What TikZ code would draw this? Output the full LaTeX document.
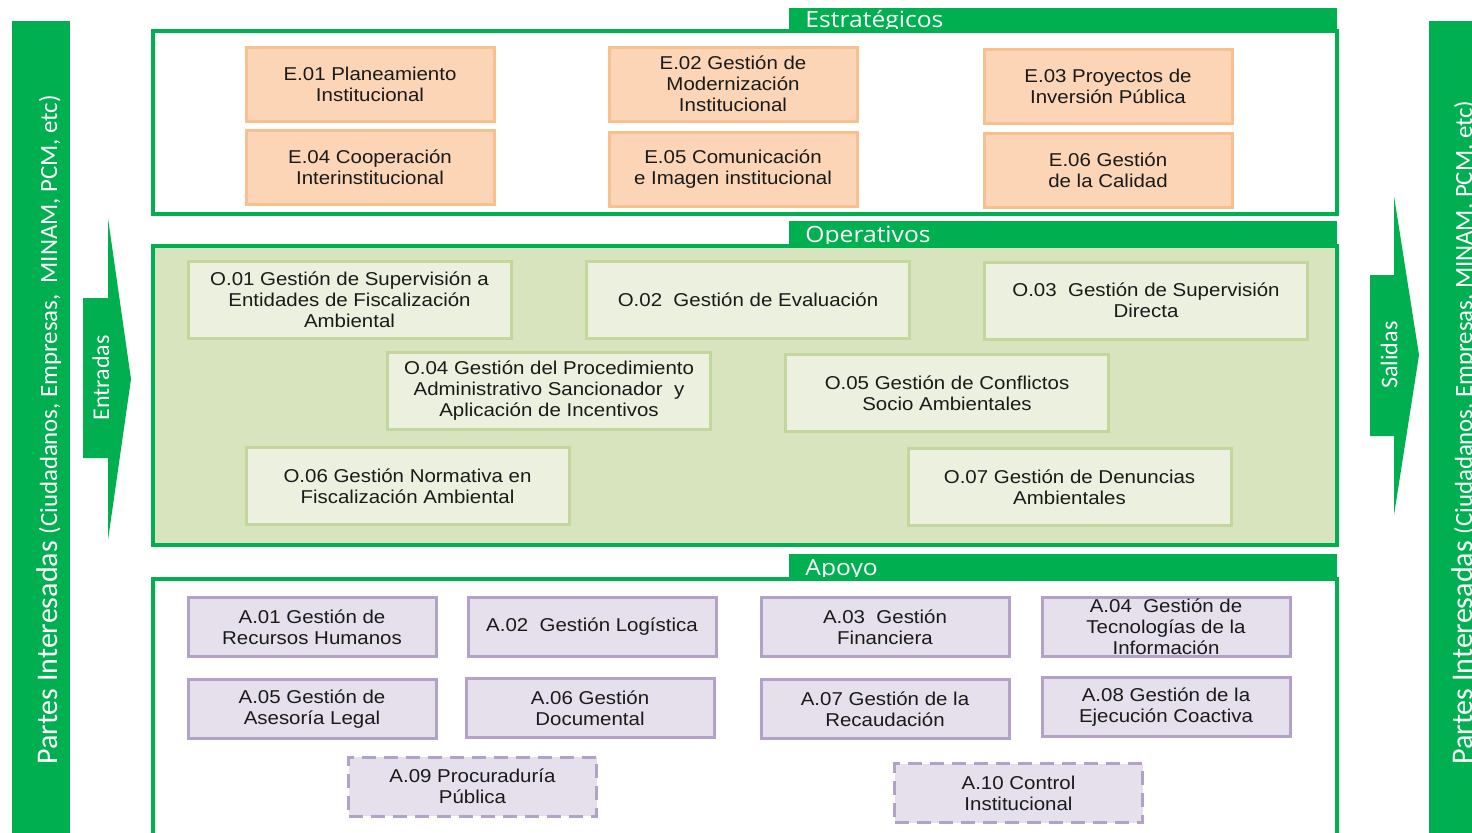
\documentclass[tikz,border=0pt]{standalone}
\usepackage{fontspec}
\setmainfont{Liberation Sans}
\newfontfamily\boxfont{Liberation Sans}[FakeStretch=1.1]
\newfontfamily\hdrfont{Open Sans}[FakeStretch=1.1]
\newfontfamily\sidefont{Carlito}
\definecolor{ogreen}{HTML}{00B050}
\definecolor{efill}{HTML}{FBD5B5}
\definecolor{eline}{HTML}{F9C08F}
\definecolor{opfill}{HTML}{D8E4BD}
\definecolor{ofill}{HTML}{EBF1DE}
\definecolor{oline}{HTML}{C3D69B}
\definecolor{afill}{HTML}{E5E0EC}
\definecolor{aline}{HTML}{B3A2C7}
\definecolor{txt}{HTML}{1A1A1A}
\tikzset{
  pbox/.style={draw, line width=1.5pt, rectangle, inner sep=0pt, outer sep=0pt, align=center,
    text=txt, font=\boxfont\fontsize{9.3}{10.5}\selectfont},
  ebox/.style={pbox, fill=efill, draw=eline, minimum width=124pt, minimum height=37pt},
  obox/.style={pbox, fill=ofill, draw=oline, minimum width=161.5pt, minimum height=38.5pt},
  abox/.style={pbox, fill=afill, draw=aline, minimum width=124pt, minimum height=29.5pt},
  adash/.style={abox, dash pattern=on 7pt off 4pt},
  frame/.style={draw=ogreen, line width=1.6pt},
  tab/.style={fill=ogreen, draw=none},
  tabtext/.style={anchor=base west, text=white, inner sep=0pt, font=\hdrfont\fontsize{11.2}{13}\selectfont},
  sidebar/.style={fill=ogreen, draw=none},
  sidetext/.style={rotate=90, text=white, inner sep=0pt},
  arrowshape/.style={fill=ogreen, draw=none}
}
\begin{document}
\begin{tikzpicture}[x=0.5pt,y=-0.5pt]
\useasboundingbox (0,0) rectangle (1472,832);
\clip (0,0) rectangle (1472,832);
\fill[white] (0,0) rectangle (1472,832);

% side bars
\fill[sidebar] (12,21) rectangle (70,840);
\fill[sidebar] (1429,21) rectangle (1480,840);
\node[sidetext, anchor=base west] (ltxt) at (57,765) {\sidefont\fontsize{15}{18}\selectfont Partes Interesadas \fontsize{12.4}{14}\selectfont(Ciudadanos, Empresas,\ \ MINAM, PCM, etc)};
\node[sidetext, anchor=base west] (rtxt) at (1472,765) {\sidefont\fontsize{15}{18}\selectfont Partes Interesadas \fontsize{12.4}{14}\selectfont(Ciudadanos, Empresas, MINAM, PCM, etc)};

% arrows
\fill[arrowshape] (83,298) -- (108,298) -- (108,218) -- (131,379) -- (108,540) -- (108,458) -- (83,458) -- cycle;
\node[sidetext, font=\sidefont\fontsize{12}{14}\selectfont] (entr) at (101,378) {Entradas};
\fill[arrowshape] (1370,275) -- (1394,275) -- (1394,196) -- (1419,355) -- (1394,515) -- (1394,436) -- (1370,436) -- cycle;
\node[sidetext, font=\sidefont\fontsize{12}{14}\selectfont] (sal) at (1389,355) {Salidas};

% Estrategicos
\fill[tab] (789,8) rectangle (1337,31);
\node[tabtext] (hE) at (805,27) {Estratégicos};
\draw[frame, fill=white] (153,31) rectangle (1337,214);
\node[ebox] (e01) at (370,84) {E.01 Planeamiento\\Institucional};
\node[ebox] (e02) at (733,84) {E.02 Gestión de\\Modernización\\Institucional};
\node[ebox] (e03) at (1108,86) {E.03 Proyectos de\\Inversión Pública};
\node[ebox] (e04) at (370,167) {E.04 Cooperación\\Interinstitucional};
\node[ebox] (e05) at (733,169) {E.05 Comunicación\\e Imagen institucional};
\node[ebox] (e06) at (1108,170.5) {E.06 Gestión\\de la Calidad};

% Operativos
\fill[tab] (789,221) rectangle (1337,246);
\node[tabtext] (hO) at (805,242) {Operativos};
\draw[frame, fill=opfill] (153,246) rectangle (1337,545);
\node[obox] (o01) at (349.5,300) {O.01 Gestión de Supervisión a\\Entidades de Fiscalización\\Ambiental};
\node[obox] (o02) at (748,299.5) {O.02\ \ Gestión de Evaluación};
\node[obox] (o03) at (1146,300.5) {O.03\ \ Gestión de Supervisión\\Directa};
\node[obox] (o04) at (549,391) {O.04 Gestión del Procedimiento\\Administrativo Sancionador\ \ y\\Aplicación de Incentivos};
\node[obox] (o05) at (947,393) {O.05 Gestión de Conflictos\\Socio Ambientales};
\node[obox] (o06) at (407.5,486) {O.06 Gestión Normativa en\\Fiscalización Ambiental};
\node[obox] (o07) at (1069.5,487) {O.07 Gestión de Denuncias\\Ambientales};

% Apoyo
\fill[tab] (789,554) rectangle (1337,579);
\node[tabtext] (hA) at (805,575) {Apoyo};
\draw[frame, fill=white] (153,579) rectangle (1337,850);
\node[abox] (a01) at (312,627) {A.01 Gestión de\\Recursos Humanos};
\node[abox] (a02) at (592,627) {A.02\ \ Gestión Logística};
\node[abox] (a03) at (885,627) {A.03\ \ Gestión\\Financiera};
\node[abox] (a04) at (1166,627) {A.04\ \ Gestión de\\Tecnologías de la\\Información};
\node[abox] (a05) at (312,709) {A.05 Gestión de\\Asesoría Legal};
\node[abox] (a06) at (590,708) {A.06 Gestión\\Documental};
\node[abox] (a07) at (885,709) {A.07 Gestión de la\\Recaudación};
\node[abox] (a08) at (1166,707) {A.08 Gestión de la\\Ejecución Coactiva};
\node[adash] (a09) at (472.5,786.5) {A.09 Procuraduría\\Pública};
\node[adash] (a10) at (1018.5,793) {A.10 Control\\Institucional};
\end{tikzpicture}
\end{document}
